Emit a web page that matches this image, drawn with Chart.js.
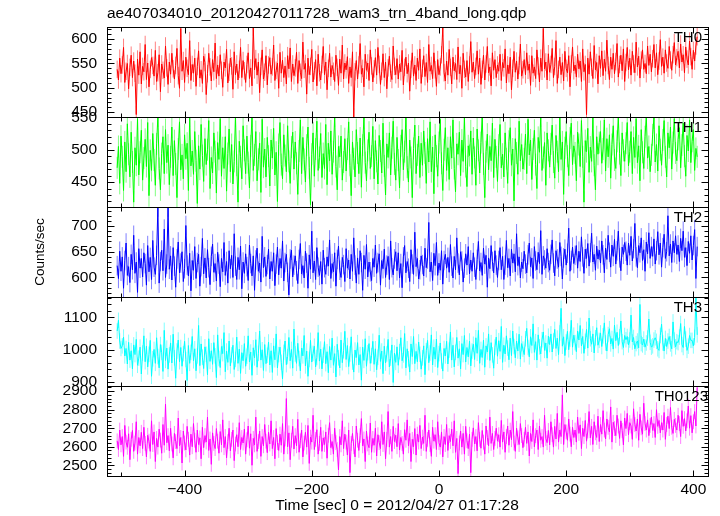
<!DOCTYPE html>
<html>
<head>
<meta charset="utf-8">
<script src="https://cdn.jsdelivr.net/npm/chart.js@4.4.1/dist/chart.umd.min.js"></script>
<style>
  html, body { margin: 0; padding: 0; background: #fff; }
  #wrap { position: relative; width: 720px; height: 516px; background: #fff; overflow: hidden; }
  #wrap canvas { position: absolute; left: 0; top: 0; }
</style>
</head>
<body>
<div id="wrap">
  <canvas id="p0" width="720" height="516"></canvas>
  <canvas id="p1" width="720" height="516"></canvas>
  <canvas id="p2" width="720" height="516"></canvas>
  <canvas id="p3" width="720" height="516"></canvas>
  <canvas id="p4" width="720" height="516"></canvas>
</div>
<script>
// light curve bins, seconds from 2012/04/27 01:17:28
const binStart = -506;
const binWidth = 2;

const th0 = [
  538,516,561,529,547,583,511,534,550,498,542,567,521,555,530,445,559,526,574,508,
  544,533,589,517,551,502,538,562,546,524,577,513,531,568,492,549,536,520,586,541,
  507,553,528,571,539,518,546,581,525,499,622,534,556,511,563,540,527,597,515,548,
  530,561,503,544,576,520,537,509,565,552,486,529,571,543,514,558,533,592,519,547,
  524,568,536,501,553,541,579,510,532,561,545,497,574,527,549,516,538,583,521,556,
  535,511,548,572,519,541,504,625,537,560,526,553,490,544,578,518,532,566,506,547,
  562,528,543,588,515,536,551,499,573,530,557,521,545,508,566,539,582,513,549,525,
  541,573,509,556,532,519,594,538,550,487,561,527,544,579,512,535,558,504,569,531,
  516,548,585,527,553,496,540,571,522,546,534,513,567,542,505,559,530,588,518,551,
  537,564,509,543,521,574,440,533,556,518,547,591,528,540,502,569,536,551,515,578,
  545,512,539,562,526,583,548,507,534,570,521,553,498,541,565,530,517,586,544,527,
  560,518,549,533,577,506,542,563,529,551,493,538,572,524,547,515,561,536,580,509,
  540,566,523,552,511,589,534,546,519,572,537,503,558,527,543,568,623,531,514,555,
  526,579,542,508,563,535,550,517,584,529,546,499,571,538,522,556,513,547,595,532,
  553,519,544,576,528,561,507,538,567,516,549,585,531,543,504,572,536,558,521,547,
  534,569,515,552,541,580,510,547,529,563,496,540,575,532,555,518,546,590,524,537,
  558,527,572,536,549,505,566,530,543,519,578,545,512,561,534,622,539,553,516,570,
  532,548,581,521,544,597,509,538,563,527,552,514,575,540,531,566,502,549,584,535,
  547,522,569,539,555,513,580,533,548,445,561,528,574,542,519,587,537,552,508,566,
  540,576,525,559,534,598,546,517,563,538,571,529,554,591,522,548,567,535,580,513,
  552,583,537,561,526,575,549,531,594,543,565,520,557,578,538,550,529,586,546,569,
  533,560,589,541,572,527,555,599,544,563,530,578,551,540,585,557,536,568,593,547,
  562,575,541,590,553,568,531,584,559,547,596,564,538,577,555,586,605
];
const th1 = [
  472,505,448,521,489,437,512,466,540,493,458,527,481,419,503,476,548,461,496,530,
  453,487,516,474,542,429,499,468,525,484,445,509,552,471,438,494,520,463,531,480,
  507,446,489,535,460,514,478,426,501,543,469,492,455,523,486,510,437,552,475,498,
  462,528,483,417,506,470,539,491,451,517,477,500,545,440,488,464,526,497,433,511,
  485,548,459,503,471,520,436,494,532,466,508,447,482,552,476,419,513,489,455,537,
  499,463,521,480,441,506,552,468,492,528,452,485,510,434,547,473,501,458,519,490,
  444,515,487,533,461,496,420,508,542,477,455,523,491,466,537,482,448,504,527,470,
  512,479,431,498,546,463,519,485,450,507,535,472,415,493,526,459,501,544,468,488,
  525,457,494,471,539,446,510,483,529,462,497,552,474,438,505,489,521,453,481,517,
  467,501,543,476,429,512,486,458,531,495,463,518,442,507,549,480,452,499,527,471,
  490,536,455,514,482,447,522,498,464,541,475,430,509,488,526,461,503,544,478,453,
  519,484,441,506,531,469,497,552,473,450,515,488,426,502,538,463,492,521,457,510,
  476,529,495,448,517,481,543,466,504,432,523,490,459,511,547,479,437,500,534,468,
  503,454,520,487,546,471,435,509,493,527,460,515,482,550,474,443,506,491,529,462,
  518,488,445,532,499,464,511,552,478,426,497,524,469,505,483,541,457,516,489,451,
  507,539,472,493,458,526,486,448,513,534,476,501,421,517,495,462,544,483,508,470,
  486,524,463,547,492,515,454,501,530,477,440,519,496,552,468,488,511,445,526,499,
  473,509,538,481,456,522,497,466,549,485,512,431,503,528,490,460,518,541,477,506,
  495,452,527,508,474,545,489,419,514,497,533,465,504,482,551,476,438,520,493,511,
  528,479,501,546,467,517,489,523,456,508,537,484,471,513,550,494,460,526,499,482,
  510,542,475,497,528,463,519,488,548,480,506,452,531,496,471,520,552,487,505,466,
  492,523,549,481,508,467,537,500,476,515,545,489,458,526,503,535,470,511,548,495,
  483,516,534,472,507,541,490,459,522,498,546,480,513,531,468,502,489
];
const th2 = [
  623,598,651,612,640,579,633,667,604,621,590,645,615,682,608,630,571,656,618,637,
  601,648,627,585,662,611,639,596,672,620,606,643,737,589,631,653,613,694,600,626,
  737,616,642,595,658,622,581,636,669,609,628,650,592,617,701,624,603,647,574,633,
  614,660,598,629,645,583,621,676,607,638,599,654,619,586,641,665,610,627,593,649,
  626,582,637,611,668,604,631,589,652,617,643,600,685,622,596,639,615,661,578,630,
  608,646,621,594,663,627,603,642,575,634,657,612,628,591,680,619,640,602,625,655,
  597,631,612,648,584,626,659,605,637,618,671,593,629,645,610,566,636,653,601,624,
  642,613,588,635,666,607,623,599,651,628,579,644,616,690,609,632,596,658,620,604,
  631,587,653,619,606,640,622,673,598,627,611,648,583,635,661,614,600,639,625,592,
  656,618,634,597,645,612,677,624,589,638,606,652,629,575,643,616,664,601,630,611,
  594,637,620,663,608,629,646,585,633,617,655,600,624,641,596,671,619,605,636,650,
  613,648,599,627,580,640,662,609,631,618,592,654,626,606,688,621,637,597,615,642,
  625,603,657,619,636,707,611,630,594,647,623,668,604,628,614,652,587,633,645,618,
  639,610,664,622,599,641,615,677,628,605,650,632,591,618,646,624,660,607,634,612,
  648,620,596,635,670,613,629,604,657,626,643,581,638,617,662,631,609,652,624,600,
  633,658,615,641,596,624,672,619,637,603,655,628,646,611,685,623,640,599,630,617,
  651,626,609,644,667,621,638,598,660,632,615,649,627,691,606,642,634,618,656,629,
  614,645,673,628,603,652,636,620,668,641,597,638,655,624,647,696,612,633,659,627,
  643,662,618,651,631,679,640,608,655,637,666,622,648,686,630,645,614,661,636,653,
  628,671,644,609,657,635,682,649,620,663,641,674,626,652,690,638,613,659,645,668,
  651,624,667,643,680,632,656,705,640,619,662,648,677,633,654,612,669,646,687,637,
  660,641,675,626,652,689,644,667,620,658,684,637,650,720,642,665,629,671,648,681,
  645,663,631,676,652,690,639,658,623,670,647,681,634,662,693,598,660
];
const th3 = [
  1058,1091,1027,1004,1012,1039,981,1004,956,1023,968,997,941,1015,985,1032,952,974,1008,925,
  990,1043,963,1011,947,986,1029,918,972,1001,958,1037,979,944,1016,992,933,1060,967,1005,
  940,984,1021,959,1048,975,912,996,1030,963,1007,949,988,1026,970,905,1013,958,992,1041,
  966,1003,935,981,1075,951,1018,977,942,1009,986,923,1034,964,997,955,1022,981,914,1046,
  973,945,1010,988,1053,932,996,961,1027,950,984,1014,939,970,1039,958,1002,927,991,966,
  1019,949,980,1043,962,993,921,1006,975,1031,946,989,1058,968,1000,936,1016,957,983,1024,
  953,997,930,1012,969,1049,944,985,1008,961,910,992,1027,954,979,1038,966,1001,943,1064,
  987,958,1020,973,935,1005,981,1044,950,996,918,970,1029,962,989,1011,947,976,1053,965,
  1002,941,983,1025,957,994,929,1010,968,1036,952,988,916,1017,975,944,1030,960,997,1057,
  970,1013,948,987,1040,962,931,999,976,1022,953,985,906,1008,967,1034,949,991,1019,958,
  982,1026,955,1003,938,977,1045,964,996,926,1011,959,987,1032,947,974,1015,899,990,961,
  1009,952,994,1037,966,984,1050,944,1003,972,931,1018,979,1041,957,995,963,1024,986,940,
  975,1012,923,997,1029,960,990,1046,953,1008,971,1033,945,988,1021,965,934,1004,981,1026,
  956,999,1055,968,1014,947,992,1038,974,1003,941,1019,985,1044,962,1007,978,1027,950,996,
  1017,970,1037,989,1060,958,1001,976,1030,946,1012,993,1049,967,1022,984,943,1008,1039,980,
  1028,995,1072,961,1014,987,1043,1005,969,1036,982,1058,1010,975,1027,996,1048,971,1019,1002,
  985,1034,1066,1007,978,1040,1013,1080,992,1025,968,1046,1009,987,1031,1055,998,1021,974,1042,
  1016,1049,993,1027,1063,1004,1036,985,1052,1128,1011,1040,982,1024,1057,1000,1033,1091,1008,1045,
  1022,994,1058,1030,1075,1012,1041,989,1026,1063,1005,1098,1034,1017,1049,990,1037,1068,1014,1029,
  1052,1010,1043,1083,1021,996,1047,1065,1018,1035,1002,1076,1028,1054,1013,1040,1089,1025,1007,1044,
  1031,1041,1015,1030,1107,1024,1038,1003,1019,1027,1006,1140,1019,1015,1033,1008,1021,1036,1095,1023,
  1008,1012,1030,1037,1026,1003,998,1044,1079,1021,996,1035,1010,1027,1041,1018,1003,1086,1030,1009,
  1025,1022,1039,1081,1016,1007,1072,1033,998,1011,1044,1029,1029,1012,1038,1160,1046
];
const th0123 = [
  2632,2585,2690,2610,2655,2548,2715,2625,2597,2670,2530,2640,2688,2575,2620,2735,2560,2650,2605,2678,
  2590,2705,2618,2545,2662,2630,2575,2740,2612,2680,2520,2645,2598,2695,2636,2565,2720,2608,2830,2622,
  2660,2578,2700,2615,2540,2672,2628,2590,2755,2605,2650,2512,2685,2620,2583,2710,2640,2555,2668,2600,
  2725,2635,2570,2690,2612,2648,2535,2705,2595,2660,2625,2760,2580,2642,2505,2675,2618,2590,2698,2630,
  2565,2682,2610,2745,2595,2655,2540,2628,2700,2578,2640,2690,2525,2615,2665,2600,2730,2585,2650,2620,
  2695,2560,2638,2712,2592,2670,2500,2645,2610,2760,2575,2628,2685,2548,2655,2605,2720,2630,2568,2678,
  2615,2740,2590,2650,2535,2698,2622,2580,2668,2608,2725,2560,2642,2860,2600,2675,2530,2635,2710,2588,
  2660,2605,2748,2570,2632,2690,2545,2620,2678,2598,2715,2510,2652,2625,2770,2585,2640,2692,2560,2618,
  2705,2575,2648,2612,2680,2538,2662,2730,2595,2628,2560,2700,2622,2585,2475,2655,2610,2740,2590,2668,
  2625,2555,2690,2460,2618,2672,2600,2545,2712,2635,2580,2660,2752,2605,2642,2520,2685,2615,2595,2728,
  2570,2645,2608,2700,2550,2665,2622,2590,2735,2612,2680,2535,2640,2790,2598,2655,2575,2710,2628,2662,
  2600,2725,2582,2650,2618,2560,2692,2635,2745,2605,2672,2520,2640,2600,2698,2555,2668,2625,2715,2590,
  2652,2618,2770,2575,2640,2690,2612,2548,2705,2630,2665,2585,2735,2622,2598,2680,2545,2655,2612,2720,
  2580,2660,2628,2695,2605,2740,2570,2645,2455,2620,2685,2598,2672,2560,2710,2632,2590,2668,2460,2640,
  2702,2615,2655,2578,2730,2640,2592,2688,2625,2560,2712,2650,2605,2760,2618,2672,2585,2645,2700,2630,
  2665,2598,2742,2625,2680,2570,2655,2712,2608,2690,2638,2790,2620,2575,2700,2648,2612,2725,2660,2595,
  2640,2705,2618,2680,2550,2672,2628,2745,2600,2660,2690,2585,2712,2635,2655,2598,2770,2645,2622,2688,
  2610,2735,2665,2598,2710,2642,2780,2625,2690,2655,2880,2612,2720,2680,2635,2750,2668,2600,2705,2650,
  2690,2625,2760,2672,2718,2590,2700,2655,2742,2630,2685,2790,2648,2710,2612,2735,2675,2650,2765,2628,
  2720,2668,2795,2690,2642,2750,2705,2680,2815,2625,2732,2698,2660,2770,2712,2645,2740,2688,2610,2755,
  2698,2780,2665,2730,2712,2640,2805,2720,2685,2750,2635,2775,2702,2668,2835,2725,2690,2745,2660,2715,
  2760,2688,2725,2650,2800,2710,2742,2675,2730,2690,2785,2640,2720,2765,2698,2812,2705,2672,2748,2715,
  2690,2770,2725,2655,2795,2710,2752,2685,2740,2820,2700,2768,2675,2735,2790,2712,2920
];

const series = [th0, th1, th2, th3, th0123];
const panelNames = ['TH0', 'TH1', 'TH2', 'TH3', 'TH0123'];
const errors = [18, 17, 19, 24, 40];       // 1-sigma per bin
const yMin = [440, 411.5, 562, 888, 2442];
const yMax = [625, 550.5, 737, 1163, 2928];
const yMajor = [50, 50, 50, 100, 100];
const yMinor = [10, 10, 10, 20, 20];
const xMin = -522, xMax = 423;

const titleText = 'ae407034010_20120427011728_wam3_trn_4band_long.qdp';
const xTitle = 'Time [sec] 0 = 2012/04/27 01:17:28';
const yTitle = 'Counts/sec';

// look
const lineColors = ['#ff0000', '#00ff00', '#0000ff', '#00ffff', '#ff00ff'];
const errColors = ['rgba(255,0,0,0.5)', 'rgba(0,255,0,0.5)', 'rgba(0,0,255,0.5)', 'rgba(0,255,255,0.5)', 'rgba(255,0,255,0.5)'];
const panelEdges = [27, 117, 207, 297, 386, 476];
const nameRight = [702, 702, 702, 702, 708];
const FONT = '"Liberation Sans", Arial, Helvetica, sans-serif';
const W = 720, H = 516;

Chart.defaults.font.family = FONT;
Chart.defaults.color = '#000';

function fmt(v) {
  return String(v).replace('-', '\u2212');
}

// light vertical error bars under the curve
const errorBars = {
  id: 'errorBars',
  beforeDatasetsDraw(chart, args, opts) {
    const {ctx, chartArea: a, scales: {x, y}} = chart;
    ctx.save();
    ctx.beginPath();
    ctx.rect(a.left, a.top, a.right - a.left, a.bottom - a.top);
    ctx.clip();
    ctx.strokeStyle = opts.color;
    ctx.lineWidth = 1;
    ctx.beginPath();
    chart.data.datasets[0].data.forEach(p => {
      const px = x.getPixelForValue(p.x);
      ctx.moveTo(px, y.getPixelForValue(p.y - opts.err));
      ctx.lineTo(px, y.getPixelForValue(p.y + opts.err));
    });
    ctx.stroke();
    ctx.restore();
  }
};

// box, inward ticks on all sides, panel name
const frame = {
  id: 'frame',
  afterDraw(chart, args, opts) {
    const {ctx, chartArea: a, scales: {x, y}} = chart;
    const i = opts.panel;
    const L = Math.round(a.left) + 0.5, R = Math.round(a.right) + 0.5;
    const T = Math.round(a.top) + 0.5, B = Math.round(a.bottom) + 0.5;
    ctx.save();
    ctx.strokeStyle = '#000';
    ctx.lineWidth = 1;
    ctx.strokeRect(L, T, R - L, B - T);
    ctx.beginPath();
    for (let k = Math.ceil(yMin[i] / yMinor[i]); k * yMinor[i] <= yMax[i]; k++) {
      const v = k * yMinor[i];
      const py = Math.round(y.getPixelForValue(v)) + 0.5;
      const len = v % yMajor[i] === 0 ? 7 : 4;
      ctx.moveTo(L, py); ctx.lineTo(L + len, py);
      ctx.moveTo(R, py); ctx.lineTo(R - len, py);
    }
    for (let k = Math.ceil(xMin / 100); k * 100 <= xMax; k++) {
      const v = k * 100;
      const px = Math.round(x.getPixelForValue(v)) + 0.5;
      const len = v % 200 === 0 ? 6 : 4;
      ctx.moveTo(px, T); ctx.lineTo(px, T + len);
      ctx.moveTo(px, B); ctx.lineTo(px, B - len);
    }
    ctx.stroke();
    ctx.fillStyle = '#000';
    ctx.font = '15px ' + FONT;
    ctx.textAlign = 'right';
    ctx.textBaseline = 'middle';
    ctx.fillText(panelNames[i], nameRight[i], a.top + 10.5);
    if (i === series.length - 1) {
      ctx.font = '15.5px ' + FONT;
      ctx.textAlign = 'center';
      ctx.fillText(xTitle, 397, 506);
    }
    ctx.restore();
  }
};

function makePanel(i) {
  const last = i === series.length - 1;
  const pts = series[i].map((v, j) => ({x: binStart + j * binWidth, y: v}));
  const xScale = {
    type: 'linear',
    min: xMin,
    max: xMax,
    display: last,
    grid: { display: false, drawTicks: false },
    border: { display: false },
    ticks: {
      stepSize: 200,
      padding: 4,
      maxRotation: 0,
      autoSkip: false,
      includeBounds: false,
      color: '#000',
      font: { size: 15.5 },
      callback: fmt
    }
  };
  if (last) xScale.afterFit = s => { s.height = H - panelEdges[5]; };

  return new Chart(document.getElementById('p' + i), {
    type: 'line',
    data: {
      datasets: [{
        data: pts,
        borderColor: lineColors[i],
        borderWidth: 1,
        pointRadius: 0,
        tension: 0,
        fill: false
      }]
    },
    options: {
      responsive: false,
      animation: false,
      devicePixelRatio: 1,
      events: [],
      layout: {
        autoPadding: false,
        padding: {
          left: 0,
          right: W - 708,
          top: i === 0 ? 0 : panelEdges[i],
          bottom: last ? 0 : H - panelEdges[i + 1]
        }
      },
      plugins: {
        legend: { display: false },
        tooltip: { enabled: false },
        title: {
          display: i === 0,
          text: titleText,
          align: 'start',
          fullSize: false,
          color: '#000',
          font: { size: 15.5, weight: 'normal' },
          padding: { top: 4, bottom: 4.4 }
        },
        errorBars: { color: errColors[i], err: errors[i] },
        frame: { panel: i }
      },
      scales: {
        x: xScale,
        y: {
          min: yMin[i],
          max: yMax[i],
          grid: { display: false, drawTicks: false },
          border: { display: false },
          ticks: {
            stepSize: yMajor[i],
            padding: 10,
            includeBounds: false,
            color: '#000',
            font: { size: 15.5 },
            callback: fmt
          },
          title: {
            display: i === 2,
            text: yTitle,
            color: '#000',
            font: { size: 13.5 },
            padding: { top: 32.6, bottom: 0 }
          },
          afterFit: s => { s.width = 107; }
        }
      }
    },
    plugins: [errorBars, frame]
  });
}

series.forEach((_, i) => makePanel(i));
</script>
</body>
</html>
